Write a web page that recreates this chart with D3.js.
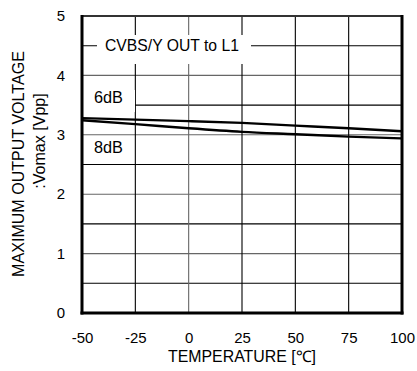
<!DOCTYPE html>
<html><head><meta charset="utf-8">
<script src="https://cdn.jsdelivr.net/npm/d3@7"></script>
<style>
body{margin:0;background:#fff;}
svg{display:block;font-family:"Liberation Sans",Arial,Helvetica,sans-serif;}
</style></head>
<body><svg id="c" width="417" height="371"></svg>
<script>
const temps = [-50, -25, 0, 25, 50, 75, 100];
const gain6dB = [3.28, 3.255, 3.23, 3.20, 3.155, 3.11, 3.06];
const gain8dB = [3.245, 3.18, 3.11, 3.05, 3.01, 2.97, 2.94];
const xTicks = [-50, -25, 0, 25, 50, 75, 100];
const yTicks = [0, 1, 2, 3, 4, 5];
const yGrid = [0.5, 1, 1.5, 2, 2.5, 3, 3.5, 4, 4.5];
const xGrid = [-25, 0, 25, 50, 75];

const svg = d3.select("#c");
const L = 82, R = 402, T = 16, B = 313;
const x = d3.scaleLinear().domain([-50, 100]).range([L, R]);
const y = d3.scaleLinear().domain([0, 5]).range([B, T]);

// size a text so that its rendered width matches the reference
function fit(sel, target) {
  const w = sel.node().getComputedTextLength();
  const fs = parseFloat(sel.attr("font-size"));
  const nfs = fs * target / w;
  sel.attr("font-size", nfs);
  return nfs;
}

// grid
svg.append("g").selectAll("line").data(yGrid).join("line")
  .attr("x1", L).attr("x2", R).attr("y1", d => y(d)).attr("y2", d => y(d))
  .attr("stroke", d => Number.isInteger(d) ? "#666" : "#000").attr("stroke-width", 1.1);
svg.append("g").selectAll("line").data(xGrid).join("line")
  .attr("y1", T).attr("y2", B).attr("x1", d => x(d)).attr("x2", d => x(d))
  .attr("stroke", d => d === 0 ? "#666" : "#000").attr("stroke-width", 1.1);

// label boxes
svg.append("rect").attr("x", 97).attr("y", 35).attr("width", 154).attr("height", 29).attr("fill", "#fff");
svg.append("rect").attr("x", L).attr("y", 90).attr("width", 53).attr("height", 22).attr("fill", "#fff");

const lab = svg.append("text").attr("x", 105).attr("y", 51).attr("font-size", 15).text("CVBS/Y OUT to L1");
fit(lab, 134);
const l6 = svg.append("text").attr("x", 94).attr("y", 103).attr("font-size", 15).text("6dB");
const fsdB = fit(l6, 29);
svg.append("text").attr("x", 94).attr("y", 153).attr("font-size", fsdB).text("8dB");

// lines
const line = d3.line().x((d, i) => x(temps[i])).y(d => y(d)).curve(d3.curveMonotoneX);
[gain6dB, gain8dB].forEach(s => {
  svg.append("path").datum(s).attr("d", line).attr("fill", "none")
    .attr("stroke", "#000").attr("stroke-width", 2.4);
});

// frame
svg.append("line").attr("x1", L).attr("x2", R).attr("y1", T).attr("y2", T).attr("stroke", "#333").attr("stroke-width", 1.8);
svg.append("line").attr("x1", R).attr("x2", R).attr("y1", T - 0.9).attr("y2", B + 1.5).attr("stroke", "#000").attr("stroke-width", 3);
svg.append("line").attr("x1", L).attr("x2", L).attr("y1", T - 0.9).attr("y2", B + 1.5).attr("stroke", "#000").attr("stroke-width", 3);
svg.append("line").attr("x1", L - 1.5).attr("x2", R + 1.5).attr("y1", B).attr("y2", B).attr("stroke", "#000").attr("stroke-width", 3);

// tick font size from the width of "100"
const probe = svg.append("text").attr("font-size", 15).text("100");
const fsTick = fit(probe, 25);
probe.remove();

const xAxis = d3.axisBottom(x).tickValues(xTicks).tickSize(0).tickPadding(0).tickFormat(d => String(d));
const gx = svg.append("g").attr("transform", `translate(0,${B + 19.5})`).call(xAxis);
gx.select(".domain").remove();
gx.selectAll("text").attr("font-size", fsTick).attr("font-family", null).attr("fill", "#000");

const yAxis = d3.axisLeft(y).tickValues(yTicks).tickSize(0).tickPadding(0).tickFormat(d => String(d));
const gy = svg.append("g").attr("transform", `translate(${L - 17},0)`).call(yAxis);
gy.select(".domain").remove();
gy.selectAll("text").attr("font-size", fsTick).attr("font-family", null).attr("fill", "#000");

// titles
const xt = svg.append("text").attr("x", 242).attr("y", 362).attr("text-anchor", "middle").attr("font-size", 16).text("TEMPERATURE [℃]");
fit(xt, 148);
const yt = svg.append("text").attr("transform", "translate(24,164) rotate(-90)").attr("text-anchor", "middle").attr("font-size", 16).text("MAXIMUM OUTPUT VOLTAGE");
const fsY = fit(yt, 226);
svg.append("text").attr("transform", "translate(45,141) rotate(-90)").attr("text-anchor", "middle").attr("font-size", fsY).text(":Vomax [Vpp]");
</script></body></html>
